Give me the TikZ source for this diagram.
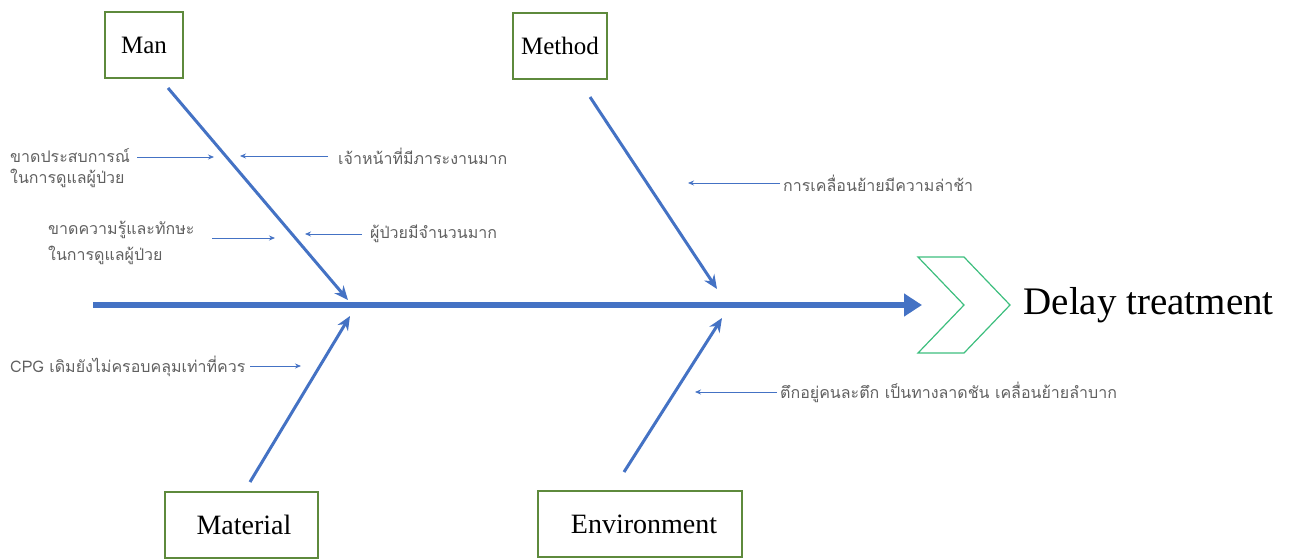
\documentclass[tikz,border=0pt]{standalone}
\usepackage{fontspec}
\setmainfont{Liberation Serif}
\newfontfamily\thaifont[Script=Thai]{Loma}
\usetikzlibrary{arrows.meta}
\definecolor{boneblue}{HTML}{4472C4}
\definecolor{boxgreen}{HTML}{5E8A3C}
\definecolor{chevgreen}{HTML}{3DBE7E}
\definecolor{causegray}{HTML}{606060}
\tikzset{
		category/.style = {draw=boxgreen, line width=2pt, fill=white, minimum height=66pt,
			inner sep=0pt, font=\fontsize{28}{30}\selectfont},
		bone/.style = {draw=boneblue, line width=3pt, -{Stealth[length=14pt,width=12pt]}},
		spine/.style = {draw=boneblue, line width=6pt, -{Triangle[length=18pt,width=22pt]}},
		cause/.style = {inner sep=0pt, align=left, text=causegray,
			font=\thaifont\fontsize{16}{21}\selectfont},
		causearrow/.style = {draw=boneblue, line width=0.8pt, -{Stealth[length=6pt,width=5pt]}}
	}

\begin{document}
\begin{tikzpicture}[x=1pt, y=-1pt]
				\useasboundingbox (0,0) rectangle (1297,558);

				% categories
				\node[category, minimum width=78pt, font=\fontsize{25}{27}\selectfont] (man)  at (144,45) {Man};
				\node[category, minimum width=94pt, font=\fontsize{25}{27}\selectfont] (meth) at (560,46) {Method};
				\node[category, minimum width=153pt] (matl) at (241,525) {\hspace{6pt}Material};
				\node[category, minimum width=204pt] (env)  at (640,524) {\hspace{8pt}Environment};

				% spine and effect
				\coordinate (tail) at (93,305);
				\coordinate (head) at (922,305);
				\draw[spine] (tail) -- (head);
				\draw[chevgreen, line width=1.2pt] (918,257) -- (964,257) -- (1010,305)
					-- (964,353) -- (918,353) -- (964,305) -- cycle;
				\node[anchor=west, font=\fontsize{39}{42}\selectfont] (effect) at (1020,305) {Delay treatment};

				% bones
				\coordinate (manS)  at (168,88);  \coordinate (manE)  at (348,300);
				\coordinate (methS) at (590,97);  \coordinate (methE) at (717,289);
				\coordinate (matlS) at (250,482); \coordinate (matlE) at (350,316);
				\coordinate (envS)  at (624,472); \coordinate (envE)  at (722,318);
				\draw[bone] (manS) -- (manE);
				\draw[bone] (methS) -- (methE);
				\draw[bone] (matlS) -- (matlE);
				\draw[bone] (envS) -- (envE);

				% causes
				\node[cause, anchor=west] (c1) at (10,168)  {ขาดประสบการณ์\\ในการดูแลผู้ป่วย};
				\node[cause, anchor=west] (c2) at (338,156) {เจ้าหน้าที่มีภาระงานมาก};
				\node[cause, anchor=west] (c3) at (48,243)  {ขาดความรู้และทักษะ\\[5pt]ในการดูแลผู้ป่วย};
				\node[cause, anchor=west] (c4) at (370,234) {ผู้ป่วยมีจำนวนมาก};
				\node[cause, anchor=west] (c5) at (783,183) {การเคลื่อนย้ายมีความล่าช้า};
				\node[cause, anchor=west] (c6) at (10,366)  {CPG เดิมยังไม่ครอบคลุมเท่าที่ควร};
				\node[cause, anchor=west] (c7) at (780,392) {ตึกอยู่คนละตึก เป็นทางลาดชัน เคลื่อนย้ายลำบาก};

				\coordinate (c1a) at (137,157); \coordinate (c1b) at (214,157);
				\coordinate (c2a) at (328,156); \coordinate (c2b) at (240,156);
				\coordinate (c3a) at (212,238); \coordinate (c3b) at (275,238);
				\coordinate (c4a) at (362,234); \coordinate (c4b) at (305,234);
				\coordinate (c5a) at (780,183); \coordinate (c5b) at (688,183);
				\coordinate (c6a) at (250,366); \coordinate (c6b) at (301,366);
				\coordinate (c7a) at (777,392); \coordinate (c7b) at (695,392);
				\foreach \c in {c1,c2,c3,c4,c5,c6,c7}
					\draw[causearrow] (\c a) -- (\c b);
			\end{tikzpicture}
\end{document}
